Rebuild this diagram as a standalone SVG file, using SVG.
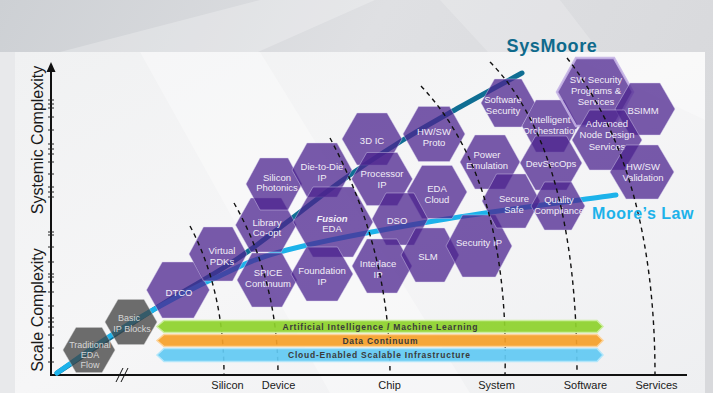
<svg xmlns="http://www.w3.org/2000/svg" width="713" height="393" viewBox="0 0 713 393">
<defs>
<linearGradient id="bgG" x1="0" y1="0" x2="1" y2="0.3">
<stop offset="0" stop-color="#cdd0d4"/><stop offset="0.5" stop-color="#dfe0e3"/><stop offset="1" stop-color="#d8d9dc"/>
</linearGradient>
<linearGradient id="panelG" x1="0" y1="0" x2="1" y2="1">
<stop offset="0" stop-color="#f0f1f2"/><stop offset="0.5" stop-color="#f6f6f7"/><stop offset="1" stop-color="#eeeff1"/>
</linearGradient>
<style>
.hx{fill:#4c248f;fill-opacity:.75;stroke:#d9d0ee;stroke-opacity:.55;stroke-width:.8}
.gx{fill:#3e3e3e;fill-opacity:.75;stroke:#c8c8c8;stroke-opacity:.5;stroke-width:.8}
.ht{font-family:"Liberation Sans",Arial,sans-serif;font-size:9.5px;fill:#f1edf7;text-anchor:middle}
.gt{font-family:"Liberation Sans",Arial,sans-serif;font-size:9px;fill:#d6d6d6;text-anchor:middle}
.div{fill:none;stroke:#111;stroke-width:1.4;stroke-dasharray:4.5 4}
.bt{font-family:"Liberation Sans",Arial,sans-serif;font-size:8.5px;font-weight:bold;fill:#3a3a3a;text-anchor:middle}
.xl{font-family:"Liberation Sans",Arial,sans-serif;font-size:11px;fill:#1a1a1a;text-anchor:middle}
.yl{font-family:"Liberation Sans",Arial,sans-serif;font-size:16px;fill:#1a1a1a;text-anchor:middle}
.tick{stroke:#222;stroke-width:1}
</style>
</defs>

<g id="background">
<rect x="0" y="0" width="713" height="393" fill="url(#bgG)"/>
<polygon points="260,0 375,0 258,52 60,52" fill="#ffffff" opacity="0.25"/>
<polygon points="440,0 560,0 600,52 488,52" fill="#ffffff" opacity="0.2"/>
<rect x="0" y="52" width="15" height="341" fill="#e8e9eb"/>
<rect x="15" y="52" width="690" height="341" fill="url(#panelG)"/>
<polygon points="140,52 260,52 470,393 330,393" fill="#ffffff" opacity="0.35"/>
<polygon points="560,52 705,52 705,120" fill="#ffffff" opacity="0.3"/>
</g>

<g id="axes">
<line x1="51" y1="376" x2="51" y2="69" stroke="#111" stroke-width="2"/>
<polygon points="51,62 46.5,72 55.5,72" fill="#111"/>
<line x1="50" y1="375" x2="687" y2="375" stroke="#111" stroke-width="2"/>
<line x1="116" y1="382" x2="123" y2="368" stroke="#111" stroke-width="1"/>
<line x1="121" y1="382" x2="128" y2="368" stroke="#111" stroke-width="1"/>
<g class="tick">
<line x1="48" y1="100" x2="54" y2="100"/><line x1="48" y1="104" x2="54" y2="104"/><line x1="48" y1="108" x2="54" y2="108"/>
<line x1="48" y1="117" x2="54" y2="117"/><line x1="48" y1="130" x2="54" y2="130"/><line x1="48" y1="144" x2="54" y2="144"/>
<line x1="48" y1="149" x2="54" y2="149"/><line x1="48" y1="154" x2="54" y2="154"/><line x1="48" y1="162" x2="54" y2="162"/>
<line x1="48" y1="174" x2="54" y2="174"/><line x1="48" y1="187" x2="54" y2="187"/><line x1="48" y1="192" x2="54" y2="192"/>
<line x1="48" y1="197" x2="54" y2="197"/><line x1="48" y1="232" x2="54" y2="232"/><line x1="48" y1="235" x2="54" y2="235"/>
<line x1="48" y1="247" x2="54" y2="247"/><line x1="48" y1="262" x2="54" y2="262"/><line x1="48" y1="274" x2="54" y2="274"/>
<line x1="48" y1="277" x2="54" y2="277"/><line x1="48" y1="282" x2="54" y2="282"/><line x1="48" y1="292" x2="54" y2="292"/>
<line x1="48" y1="306" x2="54" y2="306"/><line x1="48" y1="318" x2="54" y2="318"/><line x1="48" y1="322" x2="54" y2="322"/>
<line x1="48" y1="327" x2="54" y2="327"/><line x1="48" y1="335" x2="54" y2="335"/><line x1="48" y1="348" x2="54" y2="348"/>
<line x1="48" y1="362" x2="54" y2="362"/>
</g>
<text class="yl" transform="translate(43,140) rotate(-90)">Systemic Complexity</text>
<text class="yl" transform="translate(43,310) rotate(-90)">Scale Complexity</text>
</g>

<g id="connectors">
<path id="sysmoore-line" d="M57,373 C73,362.5 122.5,329.3 153,310 C183.5,290.7 208.8,278.3 240,257 C271.2,235.7 312.8,201.5 340,182 C367.2,162.5 383,152.5 403,140 C423,127.5 440.2,118.2 460,107 C479.8,95.8 511.7,78.7 522,73" fill="none" stroke="#0f6e93" stroke-width="5" stroke-linecap="round"/>
<path id="moore-line" d="M57,373 C65.8,366.8 94,346.5 110,336 C126,325.5 135.8,319.5 153,310 C170.2,300.5 190.7,289 213,279 C235.3,269 249.2,259.8 287,250 C324.8,240.2 385.2,229.2 440,220 C494.8,210.8 586.7,199.2 616,195" fill="none" stroke="#1cb2ea" stroke-width="5" stroke-linecap="round"/>
</g>

<g id="nodes">
<g id="n-traditional"><polygon class="gx" points="63,350 76,327.5 102,327.5 115,350 102,372.5 76,372.5"/><text class="gt"><tspan x="90" y="348">Traditional</tspan><tspan x="90" y="358">EDA</tspan><tspan x="90" y="368">Flow</tspan></text></g>
<g id="n-basic"><polygon class="gx" points="105,322 118,299.5 144,299.5 157,322 144,344.5 118,344.5"/><text class="gt" font-size="9.5"><tspan x="129" y="320.5">Basic</tspan><tspan x="132" y="331.5">IP Blocks</tspan></text></g>
<g id="n-dtco"><polygon class="hx" points="146.5,290 162.25,262 193.75,262 209.5,290 193.75,318 162.25,318"/><text class="ht" x="179" y="295.5">DTCO</text></g>
<g id="n-vpdk"><polygon class="hx" points="189,254 203.5,227 232.5,227 247,254 232.5,281 203.5,281"/><text class="ht"><tspan x="222" y="253.5">Virtual</tspan><tspan x="222" y="264.5">PDKs</tspan></text></g>
<g id="n-library"><polygon class="hx" points="235.5,225 250.75,198 281.25,198 296.5,225 281.25,252 250.75,252"/><text class="ht"><tspan x="267" y="225.5">Library</tspan><tspan x="267" y="236">Co-opt</tspan></text></g>
<g id="n-spice"><polygon class="hx" points="237,280 252,253 282,253 297,280 282,307 252,307"/><text class="ht"><tspan x="268" y="275.5">SPICE</tspan><tspan x="268" y="286.5">Continuum</tspan></text></g>
<g id="n-photonics"><polygon class="hx" points="246,184 260,158 288,158 302,184 288,210 260,210"/><text class="ht"><tspan x="277" y="180.5">Silicon</tspan><tspan x="277" y="190.5">Photonics</tspan></text></g>
<g id="n-d2d"><polygon class="hx" points="292,170 307,143 337,143 352,170 337,197 307,197"/><text class="ht"><tspan x="322" y="169.5">Die-to-Die</tspan><tspan x="322" y="180.5">IP</tspan></text></g>
<g id="n-fusion"><polygon class="hx" points="293,222 313,187 353,187 373,222 353,257 313,257"/><text class="ht"><tspan x="332" y="221.5" font-weight="bold" font-style="italic">Fusion</tspan><tspan x="332" y="232">EDA</tspan></text></g>
<g id="n-foundation"><polygon class="hx" points="291,274 306.5,247 337.5,247 353,274 337.5,301 306.5,301"/><text class="ht"><tspan x="322" y="273.5">Foundation</tspan><tspan x="322" y="284.5">IP</tspan></text></g>
<g id="n-3dic"><polygon class="hx" points="342,139 357,113 387,113 402,139 387,165 357,165"/><text class="ht" x="372" y="143.5">3D IC</text></g>
<g id="n-processor"><polygon class="hx" points="351.5,179 366.75,152.5 397.25,152.5 412.5,179 397.25,205.5 366.75,205.5"/><text class="ht"><tspan x="382" y="176.5">Processor</tspan><tspan x="382" y="187.5">IP</tspan></text></g>
<g id="n-hwsw-proto"><polygon class="hx" points="403,134 418.5,106.5 449.5,106.5 465,134 449.5,161.5 418.5,161.5"/><text class="ht"><tspan x="434" y="134.5">HW/SW</tspan><tspan x="434" y="145.5">Proto</tspan></text></g>
<g id="n-edacloud"><polygon class="hx" points="407,192 422,165.5 452,165.5 467,192 452,218.5 422,218.5"/><text class="ht"><tspan x="437" y="191.5">EDA</tspan><tspan x="437" y="202.5">Cloud</tspan></text></g>
<g id="n-dso"><polygon class="hx" points="372,219 386,193 414,193 428,219 414,245 386,245"/><text class="ht" x="397" y="223.5">DSO</text></g>
<g id="n-interlace"><polygon class="hx" points="352,266 367,239 397,239 412,266 397,293 367,293"/><text class="ht"><tspan x="378" y="266.5">Interlace</tspan><tspan x="378" y="277.5">IP</tspan></text></g>
<g id="n-slm"><polygon class="hx" points="401,255 415.5,228 444.5,228 459,255 444.5,282 415.5,282"/><text class="ht" x="428" y="259.5">SLM</text></g>
<g id="n-securityip"><polygon class="hx" points="446,246 462.5,215 495.5,215 512,246 495.5,277 462.5,277"/><text class="ht" x="479" y="245.5">Security IP</text></g>
<g id="n-power"><polygon class="hx" points="460,162 475,135 505,135 520,162 505,189 475,189"/><text class="ht"><tspan x="487" y="157.5">Power</tspan><tspan x="487" y="168.5">Emulation</tspan></text></g>
<g id="n-swsecurity"><polygon class="hx" points="481,103 494.5,79 521.5,79 535,103 521.5,127 494.5,127"/><text class="ht"><tspan x="503" y="102.5">Software</tspan><tspan x="503" y="114">Security</tspan></text></g>
<g id="n-orchestration"><polygon class="hx" points="522,126 536,100 564,100 578,126 564,152 536,152"/><text class="ht"><tspan x="550" y="122.5">Intelligent</tspan><tspan x="551" y="133.5">Orchestration</tspan></text></g>
<g id="n-devsecops"><polygon class="hx" points="520,163 535.5,136 566.5,136 582,163 566.5,190 535.5,190"/><text class="ht" x="551" y="166.5">DevSecOps</text></g>
<g id="n-securesafe"><polygon class="hx" points="482,201 496.5,174 525.5,174 540,201 525.5,228 496.5,228"/><text class="ht"><tspan x="514" y="201.5">Secure</tspan><tspan x="514" y="212.5">Safe</tspan></text></g>
<g id="n-quality"><polygon class="hx" points="531,206 544.5,182 571.5,182 585,206 571.5,230 544.5,230"/><text class="ht"><tspan x="559" y="202.5">Quality</tspan><tspan x="559" y="213.5">Compliance</tspan></text></g>
<g id="n-swprograms"><polygon class="hx" points="557,92 576,58 614,58 633,92 614,126 576,126" style="stroke:#c5b4e6;stroke-opacity:.9;stroke-width:2.5"/><text class="ht"><tspan x="596" y="82.5">SW Security</tspan><tspan x="596" y="93.5">Programs &amp;</tspan><tspan x="596" y="104.5">Services</tspan></text></g>
<g id="n-bsimm"><polygon class="hx" points="615,109 630,83 660,83 675,109 660,135 630,135"/><text class="ht" x="643" y="113.5">BSIMM</text></g>
<g id="n-advnode"><polygon class="hx" points="572,140 589.5,110 624.5,110 642,140 624.5,170 589.5,170"/><text class="ht"><tspan x="607" y="126.5">Advanced</tspan><tspan x="607" y="138">Node Design</tspan><tspan x="607" y="149.5">Services</tspan></text></g>
<g id="n-hwval"><polygon class="hx" points="610,172 626,145 658,145 674,172 658,199 626,199"/><text class="ht"><tspan x="643" y="169.5">HW/SW</tspan><tspan x="643" y="180.5">Validation</tspan></text></g>
</g>

<g id="dividers">
<path class="div" d="M190,226 Q224,290 224,375"/>
<path class="div" d="M234,203 Q278,280 278,375"/>
<path class="div" d="M330,138 Q390,250 390,375"/>
<path class="div" d="M421,86 Q510,180 505,375"/>
<path class="div" d="M490,62 Q577,150 577,375"/>
<path class="div" d="M567,58 Q655,170 655,375"/>
</g>

<g id="bands">
<g id="band-ai"><path d="M157,326.5 L164,320.5 L597,320.5 L603,326.5 L597,332.5 L164,332.5 Z" fill="#8ed22c" fill-opacity="0.93" stroke="#cdeea0" stroke-width="1.5"/><text class="bt" x="380" y="329.5" textLength="195" lengthAdjust="spacing">Artificial Intelligence / Machine Learning</text></g>
<g id="band-data"><path d="M157,340.5 L164,334.5 L597,334.5 L603,340.5 L597,346.5 L164,346.5 Z" fill="#f5a02a" fill-opacity="0.93" stroke="#fcd39a" stroke-width="1.5"/><text class="bt" x="380" y="343.5" textLength="75" lengthAdjust="spacing">Data Continuum</text></g>
<g id="band-cloud"><path d="M157,355 L164,348.5 L597,348.5 L603,355 L597,361.5 L164,361.5 Z" fill="#62c9f2" fill-opacity="0.93" stroke="#b2e6fa" stroke-width="1.5"/><text class="bt" x="379" y="358" textLength="182" lengthAdjust="spacing">Cloud-Enabled Scalable Infrastructure</text></g>
</g>

<g id="labels">
<text x="552" y="52" font-family="'Liberation Sans',Arial,sans-serif" font-size="18" font-weight="bold" fill="#0f6a8c" text-anchor="middle" letter-spacing="0.6">SysMoore</text>
<text x="643" y="219" font-family="'Liberation Sans',Arial,sans-serif" font-size="16" font-weight="bold" fill="#1cb2ea" text-anchor="middle" letter-spacing="0.5">Moore’s Law</text>
<text class="xl" x="227.5" y="388.5">Silicon</text>
<text class="xl" x="278.5" y="388.5">Device</text>
<text class="xl" x="389.5" y="388.5">Chip</text>
<text class="xl" x="496.5" y="388.5">System</text>
<text class="xl" x="585.5" y="388.5">Software</text>
<text class="xl" x="656.5" y="388.5">Services</text>
</g>
</svg>
